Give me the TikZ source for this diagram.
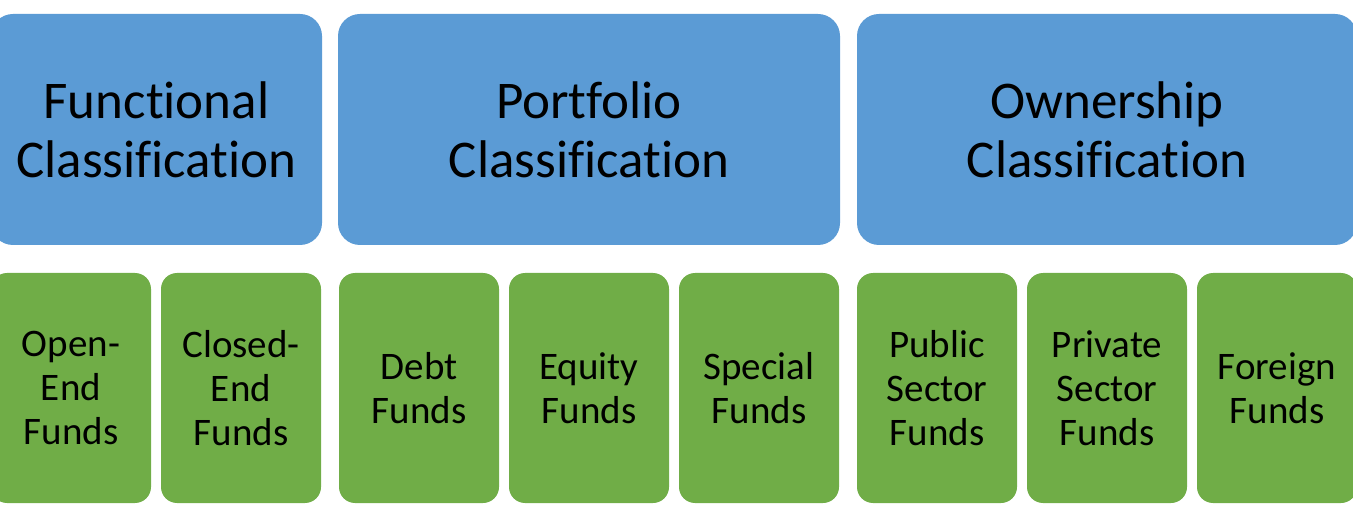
\documentclass[tikz,border=0pt]{standalone}
\usepackage{fontspec}
\setmainfont{Carlito}[Ligatures=CommonOff]
\usetikzlibrary{positioning}
\definecolor{classblue}{HTML}{5B9BD5}
\definecolor{fundgreen}{HTML}{70AD47}

\begin{document}
\begin{tikzpicture}[x=1pt,y=-1pt,
  class/.style={fill=classblue, rounded corners=22pt, minimum width=#1,
    minimum height=231pt, anchor=north west, outer sep=0pt, align=center,
    font=\fontsize{53}{59}\selectfont},
  fund/.style={fill=fundgreen, rounded corners=16pt, minimum width=160pt,
    minimum height=230pt, anchor=north west, outer sep=0pt, align=center,
    font=\fontsize{39}{44}\selectfont}]

  \useasboundingbox (0,0) rectangle (1353,505);

  % classifications
  \node [class=331pt] (func) at (-9,14) {Functional\\Classification};
  \node [class=502pt] (port) at (338,14) {Portfolio\\Classification};
  \node [class=500pt] (own) at (857,14) {Ownership\\Classification};

  % funds
  \node [fund] (open) at (-9,273) {Open-\\End\\Funds};
  \node [fund, right=10pt of open] (closed) {Closed-\\End\\Funds};
  \node [fund] (debt) at (339,273) {Debt\\Funds};
  \node [fund, right=10pt of debt] (equity) {Equity\\Funds};
  \node [fund, right=10pt of equity] (special) {Special\\Funds};
  \node [fund] (public) at (857,273) {Public\\Sector\\Funds};
  \node [fund, right=10pt of public] (private) {Private\\Sector\\Funds};
  \node [fund, right=10pt of private] (foreign) {Foreign\\Funds};

\end{tikzpicture}
\end{document}
